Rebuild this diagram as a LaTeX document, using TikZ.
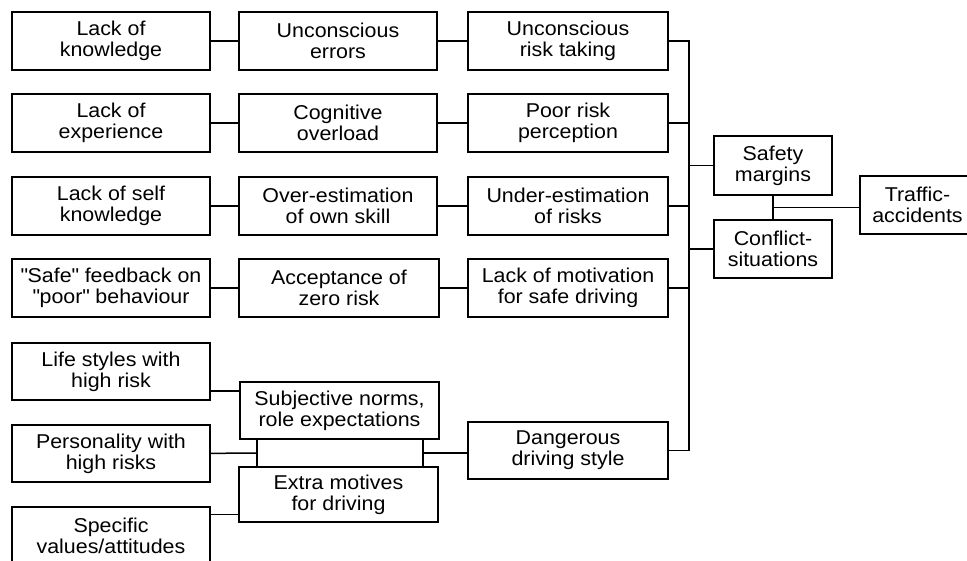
\documentclass[tikz,border=0pt]{standalone}
\usepackage{fontspec}
\setmainfont[FakeStretch=1.07]{Liberation Sans}
\begin{document}
\begin{tikzpicture}[x=1pt, y=-1pt, line width=1.5pt,
  box/.style={draw, align=center, inner sep=0pt, font=\fontsize{20}{21}\selectfont,
    minimum width=198pt, minimum height=58pt}]
\useasboundingbox (0,0) rectangle (967,561);

\node[box] (know) at (111,41) {Lack of\\knowledge};
\node[box] (uerr) at (338,41) {Unconscious\\errors};
\node[box, minimum width=200pt] (urisk) at (568,41) {Unconscious\\risk taking};

\node[box] (exp) at (111,123) {Lack of\\experience};
\node[box] (cogn) at (338,123) {Cognitive\\overload};
\node[box, minimum width=200pt] (perc) at (568,123) {Poor risk\\perception};

\node[box] (self) at (111,206) {Lack of self\\knowledge};
\node[box] (over) at (338,206) {Over-estimation\\of own skill};
\node[box, minimum width=200pt] (under) at (568,206) {Under-estimation\\of risks};

\node[box] (feed) at (111,288) {\textquotedbl Safe\textquotedbl{} feedback on\\\textquotedbl poor\textquotedbl{} behaviour};
\node[box, minimum width=200pt] (zero) at (339,288) {Acceptance of\\zero risk};
\node[box, minimum width=200pt] (motiv) at (568,288) {Lack of motivation\\for safe driving};

\node[box, minimum height=57pt] (life) at (111,371.5) {Life styles with\\high risk};
\node[box, minimum height=57pt] (pers) at (111,453.5) {Personality with\\high risks};
\node[box] (spec) at (111,536) {Specific\\values/attitudes};

\node[box, minimum width=199pt, minimum height=57pt] (norms) at (339.5,410.5) {Subjective norms,\\role expectations};
\node[draw, minimum width=166pt, minimum height=28pt, inner sep=0pt] (mid) at (340,453) {};
\node[box, minimum width=199pt, minimum height=55pt] (extra) at (338.5,494.5) {Extra motives\\for driving};
\node[box, minimum width=200pt, minimum height=57pt] (dang) at (568,450.5) {Dangerous\\driving style};

\node[box, minimum width=118pt, minimum height=59pt] (safe) at (773,165.5) {Safety\\margins};
\node[box, minimum width=118pt] (confl) at (773,249) {Conflict-\\situations};
\node[box, minimum width=115pt] (traffic) at (917.5,205) {Traffic-\\accidents};

\coordinate (bus) at (689,0);

\draw (know) -- (uerr);
\draw (uerr) -- (urisk);
\draw (exp) -- (cogn);
\draw (cogn) -- (perc);
\draw (self) -- (over);
\draw (over) -- (under);
\draw (feed) -- (zero);
\draw (zero) -- (motiv);

\path (life.south east) -- (norms.north west) coordinate[midway] (ln);
\draw (ln -| life.east) -- (ln -| norms.west);
\draw (pers) -- (mid);
\path (spec.north east) -- (extra.south west) coordinate[midway] (se);
\draw (se -| spec.east) -- (se -| extra.west);
\draw (mid.east) -- (mid.east -| dang.west);

\draw (urisk.east) -- (urisk.east -| bus) -- (dang.east -| bus) -- (dang.east);
\draw (perc.east) -- (perc.east -| bus);
\draw (under.east) -- (under.east -| bus);
\draw (motiv.east) -- (motiv.east -| bus);
\draw (safe.west -| bus) -- (safe.west);
\draw (confl.west -| bus) -- (confl.west);

\draw (safe.south) -- (confl.north) coordinate[midway] (sc);
\draw (sc) -- (sc -| traffic.west);
\end{tikzpicture}
\end{document}
